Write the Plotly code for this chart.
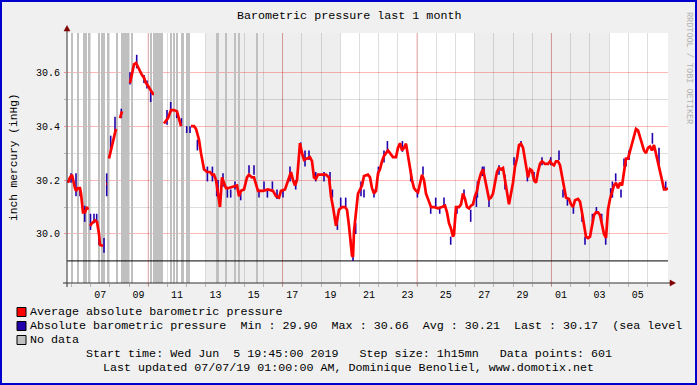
import plotly.graph_objects as go
from datetime import datetime, timedelta

# ---------------- data ----------------
start_time = datetime(2019, 6, 5, 19, 45)
step_min = 75
n_points = 601

# average absolute pressure, sampled by data-point index (None = gap)
avg_idx = [0, 2, 4, 5, 7, 8, 10, 12, 13, 15, 17, 19, 20, 21, 22, 24, 27, 29, 31, 32, 35, 36,
           38.3, 39, 40, 41, 43, 44, 46, 48, 49, 52, 54, 55,
           62, 64, 66, 68, 70, 72, 74, 76, 78, 80, 83, 85, 86, 87,
           96, 98, 100, 103, 106, 109, 111, 113, 114,
           123, 126, 128, 131, 133, 136, 139, 142, 144, 146, 148, 150, 152, 154, 156, 158,
           160, 165, 169, 171, 173, 176, 179, 181, 184, 186, 188, 190, 195, 200, 205, 208,
           211, 213, 217, 220, 223, 225, 227, 229, 231, 232, 234, 236, 239, 242, 244, 246,
           248, 250, 254, 258, 261, 263, 265, 268, 271, 274, 277, 279, 281, 283, 284, 285,
           286, 288, 290, 292, 294, 296, 300, 302, 304, 306, 308, 310, 312, 314, 316, 318,
           320, 322, 325, 328, 330, 332, 334, 336, 338, 340, 342, 344, 346, 348, 350, 352,
           354, 356, 358, 361, 363, 366, 370, 374, 377, 379, 381, 383, 385, 386, 388, 391,
           393, 395, 397, 399, 401, 403, 405, 407, 409, 411, 413, 415, 417, 419, 421, 423,
           425, 427, 429, 431, 433, 435, 437, 439, 441, 443, 445, 447, 449, 451, 453, 455,
           457, 459, 460, 462, 464, 466, 468, 470, 472, 474, 477, 480, 482, 484, 486, 488,
           490, 492, 494, 496, 498, 501, 503, 505, 507, 510, 512, 514, 516, 518, 520, 522,
           524, 526, 528, 530, 532, 534, 536, 538, 540, 542, 544, 546, 548, 550, 552, 554,
           556, 558, 560, 562, 564, 566, 568, 570, 572, 574, 576, 578, 580, 582, 584, 586,
           588, 590, 592, 594, 596, 598, 600]
avg_val = [30.19, 30.21, 30.22, 30.20, 30.17, 30.16, 30.17, 30.17, 30.15, 30.08, 30.08, 30.10,
           30.09, None, 30.03, 30.04, 30.05, 30.045, 30.00, 29.96, 29.955, None,
           30.186, 30.186, None, 30.28, 30.31, 30.32, 30.35, 30.39, None, 30.43, 30.455, None,
           30.56, 30.60, 30.63, 30.635, 30.62, 30.60, 30.59, 30.58, 30.56, 30.55, 30.53, 30.52,
           30.52, None,
           30.41, 30.42, 30.43, 30.46, 30.46, 30.455, 30.43, 30.40, None,
           30.40, 30.40, 30.39, 30.35, 30.30, 30.24, 30.23, 30.23, 30.22, 30.22, 30.20, 30.14,
           30.10, 30.21, 30.19, 30.17,
           30.17, 30.175, 30.18, 30.14, 30.16, 30.165, 30.21, 30.22, 30.21, 30.21, 30.18, 30.16,
           30.16, 30.165, 30.16, 30.14,
           30.135, 30.16, 30.165, 30.20, 30.23, 30.20, 30.18, 30.20, 30.30, 30.337, 30.30, 30.275,
           30.28, 30.285, 30.27, 30.21,
           30.205, 30.22, 30.22, 30.22, 30.21, 30.14, 30.10, 30.03, 30.09, 30.10, 30.10, 30.09,
           30.03, 29.96, 29.92, 29.915,
           30.01, 30.08, 30.15, 30.165, 30.18, 30.215, 30.22, 30.21, 30.17, 30.15, 30.16, 30.225,
           30.24, 30.27, 30.29, 30.30,
           30.31, 30.30, 30.285, 30.285, 30.32, 30.337, 30.31, 30.32, 30.335, 30.29, 30.24, 30.20,
           30.17, 30.16, 30.155, 30.19,
           30.22, 30.20, 30.15, 30.12, 30.10, 30.10, 30.095, 30.10, 30.105, 30.08, 30.04, 30.02,
           29.99, 30.00, 30.10, 30.10,
           30.11, 30.15, 30.13, 30.10, 30.095, 30.105, 30.11, 30.14, 30.16, 30.20, 30.225, 30.24,
           30.20, 30.17, 30.13, 30.135,
           30.15, 30.19, 30.23, 30.245, 30.24, 30.245, 30.20, 30.14, 30.11, 30.15, 30.19, 30.25,
           30.28, 30.33, 30.335, 30.32,
           30.27, 30.22, 30.21, 30.24, 30.235, 30.20, 30.19, 30.23, 30.26, 30.27, 30.26, 30.26,
           30.27, 30.26, 30.255, 30.27,
           30.27, 30.255, 30.21, 30.17, 30.135, 30.13, 30.11, 30.10, 30.125, 30.13, 30.12, 30.08,
           30.04, 29.99, 29.985, 29.99,
           30.03, 30.07, 30.08, 30.08, 30.07, 30.04, 30.00, 29.985, 30.09, 30.13, 30.16, 30.18,
           30.19, 30.17, 30.19, 30.18,
           30.23, 30.28, 30.28, 30.31, 30.34, 30.37, 30.39, 30.385, 30.36, 30.33, 30.31, 30.30,
           30.32, 30.325, 30.31, 30.33,
           30.30, 30.27, 30.24, 30.20, 30.165, 30.165, 30.17]

# absolute pressure excursions visible around the average (index, low, high)
spike_idx = [3, 8, 12, 16.7, 22.5, 26, 28.7, 31, 36, 38.7, 42.7, 47, 53.3, 62, 68.7, 76, 79,
             82.7, 99, 102.7, 108.7, 113.4, 118.7, 122, 129.4, 139.4, 144.4, 148.7, 150, 155,
             159.4, 162.7, 167, 172.7, 181, 186, 191, 196, 199.4, 204.4, 209, 215, 222, 227.7,
             232.7, 237, 241, 247.7, 256, 262, 264.4, 269.4, 272.7, 277.7, 282.7, 285, 287.7,
             293, 296, 306, 310.4, 316, 319.4, 334.4, 342.7, 349.4, 355, 362.7, 367.7, 371.7,
             376, 382.7, 389, 396, 402.7, 408.4, 409.4, 414.4, 416, 421, 431, 437, 446, 453,
             459.4, 466, 474, 482.7, 491, 495, 499.4, 505.4, 514, 517, 524.4, 528.4, 533.7,
             537.7, 542.7, 544.4, 547.7, 553, 556, 558, 561, 584.4, 591, 597.7]
spike_lo = [30.19, 30.14, 30.14, 30.045, 30.015, 30.04, 30.04, 29.96, 29.93, 30.14, 30.31,
            30.375, 30.43, 30.555, 30.615, 30.56, 30.54, 30.49, 30.405, 30.455, 30.43, 30.40,
            30.375, 30.375, 30.31, 30.195, 30.195, 30.14, 30.135, 30.175, 30.135, 30.135,
            30.165, 30.125, 30.225, 30.22, 30.135, 30.165, 30.135, 30.165, 30.13, 30.135,
            30.195, 30.165, 30.30, 30.25, 30.275, 30.195, 30.195, 30.195, 30.135, 30.015,
            30.10, 30.10, 29.955, 29.90, 30.00, 30.14, 30.135, 30.135, 30.215, 30.265, 30.305,
            30.305, 30.195, 30.135, 30.22, 30.075, 30.10, 30.075, 30.10, 29.96, 30.075, 30.135,
            30.045, 30.10, 30.135, 30.215, 30.22, 30.10, 30.22, 30.165, 30.255, 30.325, 30.195,
            30.195, 30.255, 30.255, 30.275, 30.135, 30.105, 30.075, 30.045, 29.96, 30.045,
            30.075, 30.045, 29.96, 30.135, 30.135, 30.195, 30.135, 30.25, 30.25, 30.275,
            30.335, 30.255, 30.165]
spike_hi = [30.225, 30.225, 30.17, 30.105, 30.075, 30.075, 30.075, 29.99, 29.985, 30.225,
            30.365, 30.435, 30.465, 30.60, 30.665, 30.59, 30.57, 30.535, 30.46, 30.49, 30.455,
            30.43, 30.40, 30.40, 30.35, 30.25, 30.25, 30.175, 30.20, 30.225, 30.175, 30.165,
            30.195, 30.15, 30.255, 30.255, 30.165, 30.195, 30.165, 30.195, 30.165, 30.165,
            30.25, 30.20, 30.34, 30.31, 30.31, 30.23, 30.23, 30.23, 30.165, 30.065, 30.135,
            30.135, 29.98, 29.92, 30.04, 30.195, 30.165, 30.165, 30.25, 30.31, 30.345, 30.345,
            30.24, 30.165, 30.25, 30.10, 30.135, 30.10, 30.135, 29.99, 30.10, 30.165, 30.09,
            30.14, 30.195, 30.25, 30.25, 30.135, 30.255, 30.22, 30.285, 30.345, 30.23, 30.23,
            30.285, 30.285, 30.31, 30.165, 30.135, 30.10, 30.09, 29.99, 30.075, 30.10, 30.075,
            29.985, 30.17, 30.195, 30.225, 30.165, 30.28, 30.28, 30.31, 30.375, 30.32, 30.195]

# data-point indices where the absolute pressure is unknown
nodata_idx = [4, 10, 16, 18, 21, 31, 34, 36, 40, 49, 54, 55, 56, 57, 58, 59, 60, 64, 83,
              86, 87, 88, 89, 90, 91, 92, 93, 94, 103, 106, 109, 114, 115, 119, 121, 149, 150,
              158, 167, 171, 189]

shade_start = ["2019-06-13", "2019-06-27"]
shade_end = ["2019-06-20", "2019-07-04"]
week_lines = ["2019-06-10", "2019-06-17", "2019-06-24", "2019-07-01"]

x_tick_dates = ["2019-06-07 12:00", "2019-06-09 12:00", "2019-06-11 12:00", "2019-06-13 12:00",
                "2019-06-15 12:00", "2019-06-17 12:00", "2019-06-19 12:00", "2019-06-21 12:00",
                "2019-06-23 12:00", "2019-06-25 12:00", "2019-06-27 12:00", "2019-06-29 12:00",
                "2019-07-01 12:00", "2019-07-03 12:00", "2019-07-05 12:00"]
x_tick_labels = ["07", "09", "11", "13", "15", "17", "19", "21", "23", "25", "27", "29",
                 "01", "03", "05"]

y_major = [30.0, 30.2, 30.4, 30.6]
y_minor = [30.1, 30.3, 30.5]
y_range = [29.818, 30.746]

stat_min, stat_max, stat_avg, stat_last = 29.90, 30.66, 30.21, 30.17

# ---------------- helpers ----------------
FONT = "Liberation Mono"
L, R, T, B = 67, 668, 33, 283


def tm(i):
    return start_time + timedelta(minutes=step_min * i)


def px(x):
    return (x - L) / (R - L)


def py(y):
    return (B - y) / (B - T)


def nb(s):
    return s.replace(" ", "\u00a0")


x_range = [tm(-1), tm(n_points - 1)]
day_grid = [datetime(2019, 6, 6) + timedelta(days=d) for d in range(31)]

fig = go.Figure()

# no data areas
fig.add_trace(go.Bar(
    x=[tm(i) for i in nodata_idx],
    y=[y_range[1] - y_range[0]] * len(nodata_idx),
    base=y_range[0],
    width=step_min * 60 * 1000,
    marker=dict(color="#c0c0c0", line=dict(width=0)),
    hoverinfo="skip",
))

# HRULE at minimum
fig.add_trace(go.Scatter(x=x_range, y=[stat_min, stat_min], mode="lines",
                         line=dict(color="black", width=1), hoverinfo="skip"))

# absolute pressure spikes
sx, sy = [], []
for i, lo, hi in zip(spike_idx, spike_lo, spike_hi):
    sx += [tm(i), tm(i), None]
    sy += [lo, hi, None]
fig.add_trace(go.Scatter(x=sx, y=sy, mode="lines",
                         line=dict(color="#2200aa", width=1.6), hoverinfo="skip"))

# average line
fig.add_trace(go.Scatter(x=[tm(i) for i in avg_idx], y=avg_val, mode="lines",
                         connectgaps=False,
                         line=dict(color="#ff0000", width=2.7), hoverinfo="skip"))

shapes = []
for s, e in zip(shade_start, shade_end):
    shapes.append(dict(type="rect", xref="x", yref="paper", x0=s, x1=e, y0=0, y1=1,
                       fillcolor="#eeeeee", line=dict(width=0), layer="below"))
for w in week_lines:
    shapes.append(dict(type="line", xref="x", yref="paper", x0=w, x1=w, y0=py(286), y1=1,
                       line=dict(color="rgba(255,0,0,0.28)", width=1), layer="between"))
# axes
shapes.append(dict(type="line", xref="paper", yref="paper", x0=px(67), x1=px(67),
                   y0=py(287), y1=py(29), line=dict(color="#303030", width=1)))
shapes.append(dict(type="line", xref="paper", yref="paper", x0=px(63), x1=px(671),
                   y0=py(283), y1=py(283), line=dict(color="#303030", width=1)))
shapes.append(dict(type="path", xref="paper", yref="paper",
                   path=f"M {px(67)} {py(25.5)} L {px(64)} {py(31)} L {px(70)} {py(31)} Z",
                   fillcolor="#7f0000", line=dict(color="#7f0000", width=0.5)))
shapes.append(dict(type="path", xref="paper", yref="paper",
                   path=f"M {px(675.5)} {py(283)} L {px(670)} {py(280)} L {px(670)} {py(286)} Z",
                   fillcolor="#7f0000", line=dict(color="#7f0000", width=0.5)))
# frame
shapes.append(dict(type="rect", xref="paper", yref="paper", x0=px(1), x1=px(696),
                   y0=py(1), y1=py(384), line=dict(color="#0000cc", width=2)))

legend_rows = [(312, "#ff0000"), (326, "#2200aa"), (340, "#c0c0c0")]
for yc, col in legend_rows:
    shapes.append(dict(type="rect", xref="paper", yref="paper", x0=px(17), x1=px(26),
                       y0=py(yc - 4.5), y1=py(yc + 4.5), fillcolor=col,
                       line=dict(color="black", width=1)))

ann = []


def text(x, y, s, size=11.7, anchor="center", angle=0, color="black"):
    ann.append(dict(xref="paper", yref="paper", x=px(x), y=py(y), text=nb(s),
                    showarrow=False, xanchor=anchor, yanchor="middle", textangle=angle,
                    font=dict(family=FONT, size=size, color=color)))


text(348.5, 16.5, "Barometric pressure last 1 month")
text(14, 157, "inch mercury (inHg)", size=11.2, angle=-90)
text(689, 68, "RRDTOOL / TOBI OETIKER", size=8.5, angle=90, color="#b0b0b0")
text(28, 312, "Average absolute barometric pressure", anchor="left")
text(28, 326, f"Absolute barometric pressure  Min : {stat_min:.2f}  Max : {stat_max:.2f}  "
              f"Avg : {stat_avg:.2f}  Last : {stat_last:.2f}  (sea level", anchor="left")
text(28, 340, "No data", anchor="left")
text(348.5, 354, f"Start time: {start_time.strftime('%a %b')} {start_time.day:2d} "
                 f"{start_time.strftime('%H:%M:%S %Y')}   Step size: 1h15mn   "
                 f"Data points: {n_points}")
text(348.5, 368, "Last updated 07/07/19 01:00:00 AM, Dominique Benoliel, www.domotix.net")

fig.update_layout(
    width=697, height=385,
    margin=dict(l=L, r=697 - R, t=T, b=385 - B, pad=0),
    paper_bgcolor="#f0f0f0", plot_bgcolor="white",
    showlegend=False, hovermode=False,
    shapes=shapes, annotations=ann,
    xaxis=dict(type="date", range=x_range, tickmode="array", tickvals=x_tick_dates,
               ticktext=x_tick_labels, ticks="", showgrid=False, zeroline=False,
               showline=False, ticklabelstandoff=4,
               tickfont=dict(family=FONT, size=10, color="black"),
               minor=dict(tickmode="array", tickvals=day_grid, showgrid=True,
                          gridcolor="rgba(0,0,0,0.13)", gridwidth=1, ticks="outside",
                          ticklen=3, tickcolor="rgba(0,0,0,0.25)")),
    yaxis=dict(range=y_range, tickmode="array", tickvals=y_major,
               ticktext=[f"{v:.1f}" for v in y_major], showgrid=True,
               gridcolor="rgba(255,0,0,0.28)", gridwidth=1, zeroline=False, showline=False,
               ticks="outside", ticklen=2, tickcolor="rgba(255,0,0,0.4)",
               ticklabelstandoff=2,
               tickfont=dict(family=FONT, size=10, color="black"),
               minor=dict(tickmode="array", tickvals=y_minor, showgrid=True,
                          gridcolor="rgba(0,0,0,0.13)", gridwidth=1, ticks="outside",
                          ticklen=2, tickcolor="rgba(0,0,0,0.25)")),
)

fig.write_html("out.html", config={"displayModeBar": False},
               post_script="document.body.style.margin='0px';"
                           "document.body.style.overflow='hidden';")
